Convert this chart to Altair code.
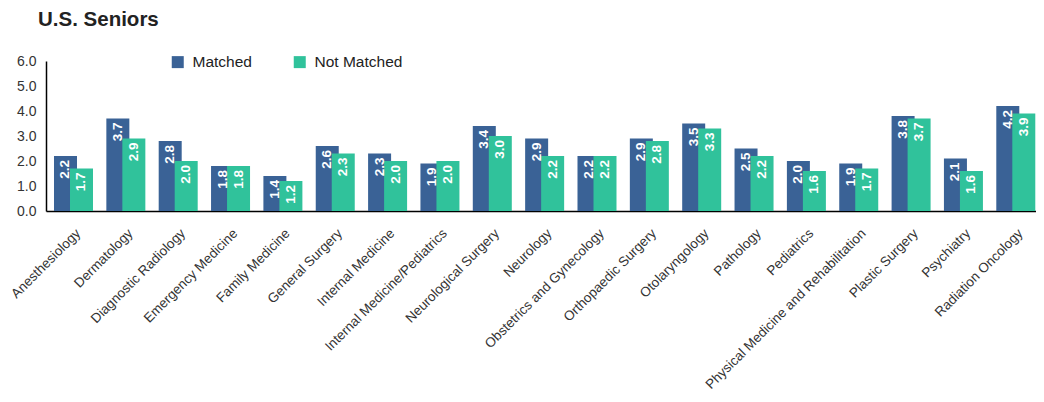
import altair as alt
import pandas as pd

specialties = [
    "Anesthesiology", "Dermatology", "Diagnostic Radiology", "Emergency Medicine",
    "Family Medicine", "General Surgery", "Internal Medicine",
    "Internal Medicine/Pediatrics", "Neurological Surgery", "Neurology",
    "Obstetrics and Gynecology", "Orthopaedic Surgery", "Otolaryngology",
    "Pathology", "Pediatrics", "Physical Medicine and Rehabilitation",
    "Plastic Surgery", "Psychiatry", "Radiation Oncology",
]
matched = [2.2, 3.7, 2.8, 1.8, 1.4, 2.6, 2.3, 1.9, 3.4, 2.9, 2.2, 2.9, 3.5, 2.5, 2.0, 1.9, 3.8, 2.1, 4.2]
not_matched = [1.7, 2.9, 2.0, 1.8, 1.2, 2.3, 2.0, 2.0, 3.0, 2.2, 2.2, 2.8, 3.3, 2.2, 1.6, 1.7, 3.7, 1.6, 3.9]
groups = ["Matched", "Not Matched"]
colors = ["#3A6296", "#30C29B"]
y_ticks = [0, 1, 2, 3, 4, 5, 6]

rows = []
for s, v in zip(specialties, matched):
    rows.append({"Specialty": s, "Group": groups[0], "Value": v})
for s, v in zip(specialties, not_matched):
    rows.append({"Specialty": s, "Group": groups[1], "Value": v})
df = pd.DataFrame(rows)

FONT = "Liberation Sans"

x_enc = alt.X(
    "Specialty:N", sort=specialties, title=None,
    scale=alt.Scale(paddingInner=0.3887, paddingOuter=0.15, align=0.732),
    axis=alt.Axis(labelAngle=-45, labelAlign="right", labelBaseline="top",
                  ticks=False, labelFontSize=13.5, labelColor="#333333",
                  labelFont=FONT, domainColor="#000000", domainWidth=1.5,
                  labelPadding=15, labelOverlap=False, labelLimit=400),
)
y_enc = alt.Y(
    "Value:Q", title=None,
    scale=alt.Scale(domain=[0, 6], nice=False),
    axis=alt.Axis(values=y_ticks, format=".1f", grid=False,
                  ticks=False, labelFontSize=14, labelColor="#333333",
                  labelFont=FONT, domainColor="#000000", domainWidth=1.5,
                  labelPadding=10, labelOverlap=False, labelFlush=False,
                  labelBound=False),
)
xoff_enc = alt.XOffset("Group:N", sort=groups,
                       scale=alt.Scale(paddingInner=0, paddingOuter=0))

base = alt.Chart(df).encode(x=x_enc, xOffset=xoff_enc, y=y_enc)

bars = base.mark_bar(width=23).encode(
    color=alt.Color("Group:N", sort=groups,
                    scale=alt.Scale(domain=groups, range=colors),
                    legend=alt.Legend(title=None, orient="none", legendX=124,
                                      legendY=-7, direction="horizontal",
                                      symbolType="square", symbolSize=144,
                                      symbolStrokeWidth=0,
                                      labelFontSize=15.5, labelFont=FONT,
                                      labelColor="#222222", labelOffset=7,
                                      columnPadding=40)),
    order=alt.Order("Group:N"),
)

labels = base.mark_text(
    angle=270, align="right", baseline="middle", dx=-4, color="white",
    fontWeight="bold", fontSize=13.5, font=FONT,
).encode(
    text=alt.Text("Value:Q", format=".1f"),
)

chart = alt.layer(bars, labels).properties(
    width=990, height=150,
    autosize=alt.AutoSizeParams(type="none"),
    padding={"left": 38, "top": 53, "right": 0, "bottom": 183},
    title=alt.TitleParams("U.S. Seniors", anchor="start", frame="group",
                          fontSize=20.5, fontWeight="bold", font=FONT,
                          color="#222222", dx=-8, offset=24),
).configure_view(stroke=None)

chart.save("out.html", embed_options={"renderer": "svg", "actions": False})
